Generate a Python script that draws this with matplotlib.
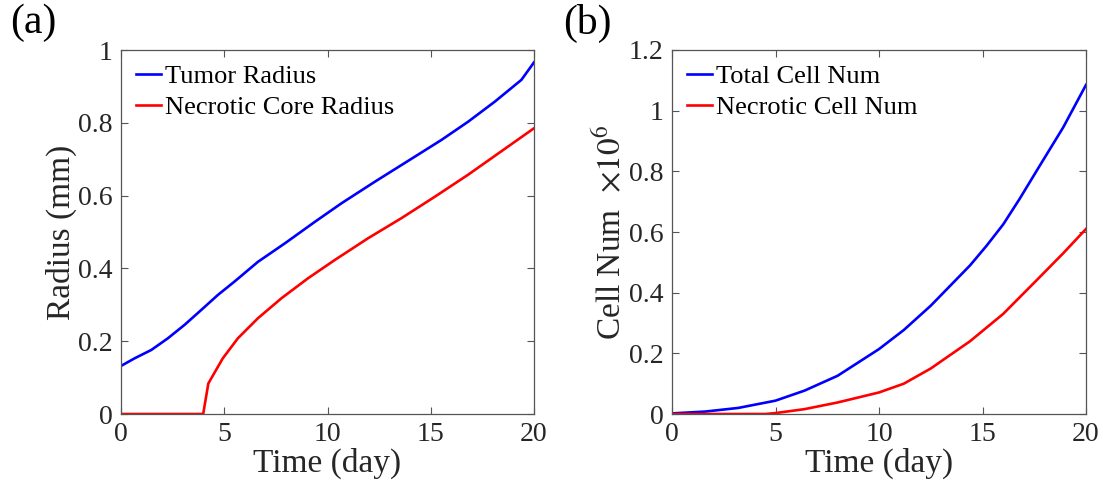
import numpy as np
import matplotlib
matplotlib.use("Agg")
import matplotlib.pyplot as plt

plt.rcParams['font.family'] = ['Liberation Serif', 'DejaVu Serif']
plt.rcParams['mathtext.fontset'] = 'stix'

# (a) radius vs time
t_tumor = [0, 0.66, 1.47, 2.27, 3.08, 3.89, 4.69, 5.5, 6.63, 7.94, 9.39, 10.68, 12.29, 14.23, 15.52, 16.81, 18.1, 19.39, 20]
r_tumor = [0.132, 0.153, 0.176, 0.208, 0.245, 0.286, 0.327, 0.364, 0.418, 0.469, 0.528, 0.579, 0.638, 0.707, 0.753, 0.803, 0.858, 0.918, 0.966]
t_core = [0, 3.98, 4.23, 4.93, 5.66, 6.63, 7.77, 9.06, 10.35, 11.97, 13.58, 15.2, 16.8, 18.4, 20]
r_core = [0, 0, 0.084, 0.153, 0.208, 0.263, 0.318, 0.373, 0.423, 0.483, 0.538, 0.597, 0.657, 0.721, 0.785]

# (b) cell numbers (x1e6) vs time
t_total = [0, 1.6, 3.2, 5, 6.4, 8, 10, 11.2, 12.5, 14.4, 15.2, 16, 16.8, 17.6, 18.9, 20]
n_total = [0.002, 0.008, 0.02, 0.044, 0.077, 0.126, 0.214, 0.277, 0.357, 0.49, 0.555, 0.625, 0.71, 0.80, 0.945, 1.085]
t_necro = [0, 4.5, 5, 6.4, 8, 10, 11.2, 12.5, 14.4, 16, 17.6, 18.9, 20]
n_necro = [0, 0, 0.003, 0.016, 0.038, 0.071, 0.1, 0.15, 0.24, 0.33, 0.44, 0.53, 0.61]

fig = plt.figure(figsize=(11.05, 4.96), dpi=100)
ax1 = fig.add_axes([121 / 1105, 82 / 496, 413 / 1105, 364 / 496])
ax2 = fig.add_axes([672 / 1105, 82 / 496, 414 / 1105, 364 / 496])

lw = 1.9
ax1.plot(t_tumor, r_tumor, color='#0000ff', lw=lw, label='Tumor Radius')
ax1.plot(t_core, r_core, color='#ff0000', lw=lw, label='Necrotic Core Radius')
ax2.plot(t_total, n_total, color='#0000ff', lw=lw, label='Total Cell Num')
ax2.plot(t_necro, n_necro, color='#ff0000', lw=lw, label='Necrotic Cell Num')

ax1.set_ylim(0, 1)
ax1.set_yticks([0, 0.2, 0.4, 0.6, 0.8, 1])
ax1.set_yticklabels(['0', '0.2', '0.4', '0.6', '0.8', '1'])
ax1.set_ylabel('Radius (mm)', fontsize=24, labelpad=1)

ax2.set_ylim(0, 1.2)
ax2.set_yticks([0, 0.2, 0.4, 0.6, 0.8, 1, 1.2])
ax2.set_yticklabels(['0', '0.2', '0.4', '0.6', '0.8', '1', '1.2'])
ax2.set_ylabel('Cell Num  $\\times10^6$', fontsize=24, labelpad=1)

for ax in (ax1, ax2):
    ax.set_xlim(0, 20)
    ax.set_xticks([0, 5, 10, 15, 20])
    ax.set_xlabel('Time (day)', fontsize=24, labelpad=0)
    ax.tick_params(direction='in', top=True, right=True, length=5, width=0.8,
                   colors='#555555', labelcolor='#262626', labelsize=20, pad=6)
    for s in ax.spines.values():
        s.set_color('#555555')
        s.set_linewidth(0.9)
    ax.xaxis.label.set_color('#262626')
    ax.yaxis.label.set_color('#262626')
    ax.legend(loc='upper left', frameon=False, fontsize=19, handlelength=0.95,
              handletextpad=0.15, borderaxespad=0.25, borderpad=0.3, labelspacing=0.3)

fig.text(10 / 1105, 1 - 4 / 496, '(a)', fontsize=30, va='top')
fig.text(563 / 1105, 1 - 4 / 496, '(b)', fontsize=30, va='top')

fig.savefig('out.png', dpi=100)
